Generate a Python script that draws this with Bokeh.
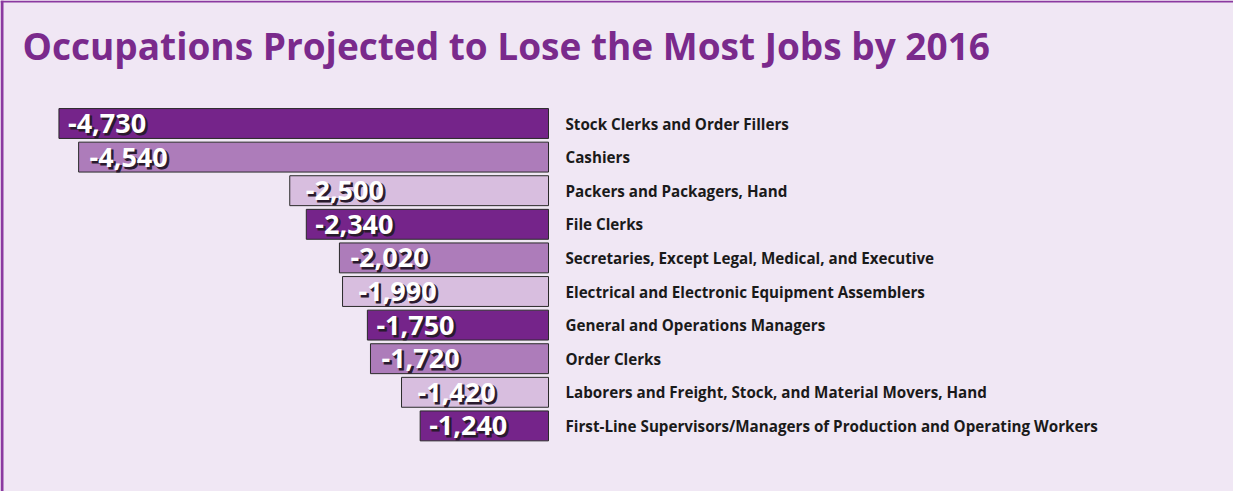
from bokeh.plotting import figure
from bokeh.models import Range1d, ColumnDataSource, Label, BoxAnnotation
from bokeh.core.properties import value
from bokeh.embed import file_html
from bokeh.resources import INLINE

title = "Occupations Projected to Lose the Most Jobs by 2016"
occupations = [
    "Stock Clerks and Order Fillers",
    "Cashiers",
    "Packers and Packagers, Hand",
    "File Clerks",
    "Secretaries, Except Legal, Medical, and Executive",
    "Electrical and Electronic Equipment Assemblers",
    "General and Operations Managers",
    "Order Clerks",
    "Laborers and Freight, Stock, and Material Movers, Hand",
    "First-Line Supervisors/Managers of Production and Operating Workers",
]
jobs_change = [-4730, -4540, -2500, -2340, -2020, -1990, -1750, -1720, -1420, -1240]

BG = "#f0e7f4"
shades = ["#75248a", "#ad7cba", "#d8bedf"]
text_offsets = [9, 11, 16]

W, H = 1233, 491
px_per_unit = 0.1035
zero_px = 556 - 8
row_px = 33.6
first_row_px = 131 - 8

x0 = -zero_px / px_per_unit
x1 = (W - zero_px) / px_per_unit
y_top = -first_row_px / row_px
y_bot = (H - first_row_px) / row_px

p = figure(width=W, height=H, output_backend="svg", toolbar_location=None,
           x_range=Range1d(x0, x1), y_range=Range1d(y_bot, y_top),
           min_border=0, background_fill_color=BG, border_fill_color=BG)
p.axis.visible = False
p.grid.visible = False
p.outline_line_color = None

n = len(jobs_change)
idx = list(range(n))
src = ColumnDataSource(dict(
    y=idx,
    left=jobs_change,
    right=[0] * n,
    color=[shades[i % 3] for i in idx],
    label=[f"{v:,}" for v in jobs_change],
    occ=occupations,
    xoff=[text_offsets[i % 3] for i in idx],
    xoff_sh=[text_offsets[i % 3] + 2 for i in idx],
))

p.hbar(y="y", left="left", right="right", height=0.89, source=src,
       fill_color="color", line_color="#2a2a2a", line_width=1)

# value labels: shadow + white text
p.text(x="left", y="y", text="label", source=src, x_offset="xoff_sh", y_offset=2,
       text_font=value("Open Sans"), text_font_style="bold", text_font_size="27px",
       text_color="#2a1a2e", text_outline_color="#2a1a2e",
       text_baseline="middle", text_align="left")
p.text(x="left", y="y", text="label", source=src, x_offset="xoff", y_offset=0,
       text_font=value("Open Sans"), text_font_style="bold", text_font_size="27px",
       text_color="white", text_baseline="middle", text_align="left")

# occupation labels
p.text(x="right", y="y", text="occ", source=src, x_offset=17, y_offset=0,
       text_font=value("Open Sans"), text_font_style="bold", text_font_size="15.2px",
       text_color="#1a1a1a", text_baseline="middle", text_align="left")

p.add_layout(Label(x=22, y=H - 45, x_units="screen", y_units="screen", text=title,
                   text_font="Open Sans", text_font_style="bold", text_font_size="37px",
                   text_color="#7a2a8c", text_baseline="alphabetic", text_align="left"))

BORDER = "#8b3aa0"
p.add_layout(BoxAnnotation(left=0, right=W, top=H, bottom=H - 2,
                           left_units="screen", right_units="screen",
                           top_units="screen", bottom_units="screen",
                           fill_color=BORDER, fill_alpha=1, line_color=None))
p.add_layout(BoxAnnotation(left=0, right=3, top=H, bottom=0,
                           left_units="screen", right_units="screen",
                           top_units="screen", bottom_units="screen",
                           fill_color=BORDER, fill_alpha=1, line_color=None))

open("out.html", "w").write(file_html(p, INLINE))
